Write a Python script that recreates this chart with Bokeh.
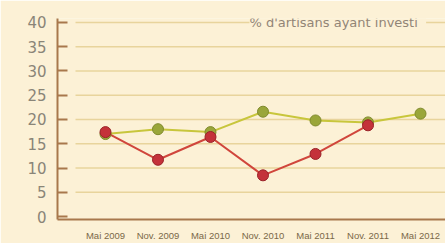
from bokeh.plotting import figure
from bokeh.models import Range1d, FixedTicker, Label
from bokeh.embed import file_html
from bokeh.resources import INLINE

periods = ["Mai 2009", "Nov. 2009", "Mai 2010", "Nov. 2010", "Mai 2011", "Nov. 2011", "Mai 2012"]
green_vals = [17.0, 18.0, 17.4, 21.6, 19.8, 19.4, 21.2]
red_vals = [17.4, 11.7, 16.4, 8.5, 12.9, 18.8]
y_ticks = [0, 5, 10, 15, 20, 25, 30, 35, 40]
legend_text = "% d'artisans ayant investi"

BG = "#fcf1d6"
GRID = "#e8d49c"
AXIS = "#a8784c"

xs = list(range(len(periods)))

p = figure(width=445, height=243, output_backend="svg", toolbar_location=None,
           x_range=Range1d(-0.914, 6.476), y_range=Range1d(-0.6, 40.8),
           min_border_left=57, min_border_right=0, min_border_top=18, min_border_bottom=16)
p.background_fill_color = BG
p.border_fill_color = BG
p.outline_line_color = None
p.xgrid.visible = False
p.ygrid.visible = False

gx0 = -0.571
gx1 = 6.476
grid_y = [t for t in y_ticks if t > 0]
p.segment(x0=[gx0] * len(grid_y), x1=[gx1] * len(grid_y), y0=grid_y, y1=grid_y,
          line_color=GRID, line_width=1.5)

p.line(xs, green_vals, line_color="#c8c63c", line_width=2)
p.line(xs[:len(red_vals)], red_vals, line_color="#d0463c", line_width=2)
p.scatter(xs, green_vals, size=11, fill_color="#9aa63a", line_color="#7f8a2c", line_width=1)
p.scatter(xs[:len(red_vals)], red_vals, size=11, fill_color="#c4323a", line_color="#9a2228", line_width=1)

lbl = Label(x=192, y=40, x_units="screen", y_units="data", text=" " + legend_text + " ",
            text_font="DejaVu Sans", text_font_size="13px", text_color="#928576",
            text_baseline="middle", text_align="left",
            background_fill_color=BG)
p.add_layout(lbl)

ya = p.yaxis[0]
ya.ticker = FixedTicker(ticks=y_ticks)
ya.axis_line_color = AXIS
ya.axis_line_width = 2
ya.major_tick_line_color = AXIS
ya.major_tick_line_width = 2
ya.major_tick_in = 10
ya.major_tick_out = 0
ya.minor_tick_line_color = None
ya.major_label_standoff = 11
ya.major_label_text_font = "DejaVu Sans"
ya.major_label_text_font_size = "15px"
ya.major_label_text_color = "#8a8578"

xa = p.xaxis[0]
xa.ticker = FixedTicker(ticks=xs)
xa.major_label_overrides = {i: s for i, s in zip(xs, periods)}
xa.axis_line_color = AXIS
xa.axis_line_width = 2
xa.major_tick_line_color = None
xa.minor_tick_line_color = None
xa.major_label_standoff = 4
xa.major_label_text_font = "Liberation Sans"
xa.major_label_text_font_size = "9.5px"
xa.major_label_text_color = "#7a6848"

open("out.html", "w").write(file_html(p, INLINE))
